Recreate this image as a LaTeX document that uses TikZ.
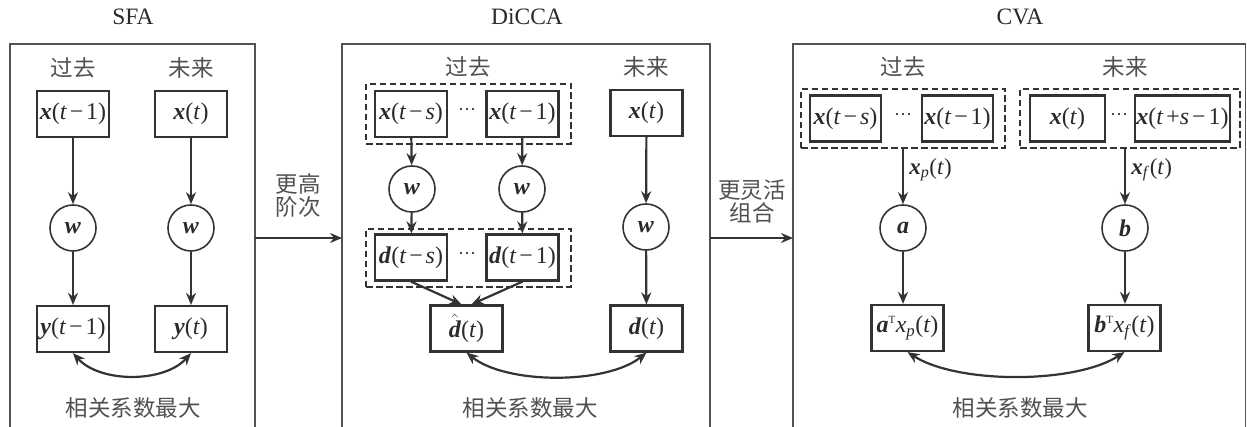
\documentclass[tikz,border=0pt]{standalone}
\usepackage{fontspec}
\setmainfont{Liberation Serif}
\newfontfamily\cjk{Noto Sans CJK SC}
\usetikzlibrary{arrows.meta}
\definecolor{ink}{HTML}{333333}
\definecolor{txt}{HTML}{2A2A2A}
\definecolor{zhc}{HTML}{505050}
\newcommand{\bi}[1]{\textbf{\textit{#1}}}
\newcommand{\ti}[1]{\textit{#1}}
\newcommand{\mn}{\kern0.12em−\kern0.12em}
\newcommand{\dhat}{$\hat{\mbox{\bi{d}}}$}
\begin{document}
\begin{tikzpicture}[x=1pt,y=-1pt,
  every node/.style={text=txt},
  vbox/.style={draw=ink,line width=2.2pt,minimum width=72pt,minimum height=46pt,inner sep=0pt,font=\fontsize{24}{26}\selectfont},
  cnode/.style={draw=ink,circle,line width=1.6pt,minimum size=46pt,inner sep=0pt,font=\fontsize{24}{26}\selectfont},
  dbox/.style={draw=ink,line width=1.6pt,dash pattern=on 6.5pt off 3.5pt},
  panel/.style={draw=ink!85,line width=1.4pt},
  arr/.style={draw=ink,line width=2.2pt,-{Stealth[length=12pt,width=10pt]}},
  darr/.style={draw=ink,line width=2.2pt,{Stealth[length=12pt,width=10pt]}-{Stealth[length=12pt,width=10pt]}},
  zh/.style={font=\cjk\fontsize{22.5}{24}\selectfont,text=zhc},
  ttl/.style={font=\fontsize{23.5}{25}\selectfont},
  lbl/.style={font=\fontsize{23}{25}\selectfont},
  dots/.style={font=\fontsize{18}{20}\selectfont,inner sep=0pt}
]
\useasboundingbox (0,0) rectangle (1247,427);
% panels
\draw[panel] (10,427) -- (10,44) -- (255,44) -- (255,427);
\draw[panel] (342,427) -- (342,44) -- (710,44) -- (710,427);
\draw[panel] (793,427) -- (793,44) -- (1245.5,44) -- (1245.5,427);
\node[ttl] (t1) at (133,17) {SFA};
\node[ttl] (t2) at (527,17) {DiCCA};
\node[ttl] (t3) at (1020,17) {CVA};
% inter-panel arrows
\coordinate (p1r) at (255,238);
\coordinate (p2l) at (342,238);
\coordinate (p2r) at (710,238);
\coordinate (p3l) at (793,238);
\draw[arr] (p1r) -- (p2l);
\draw[arr] (p2r) -- (p3l);
\node[zh,align=center] (l1) at (298,195) {更高\\[-1pt]阶次};
\node[zh,align=center] (l2) at (752,201) {更灵活\\[-1pt]组合};

% ---------- SFA ----------
\node[zh] (a1) at (73,68) {过去};
\node[zh] (b1) at (191,68) {未来};
\node[vbox] (xa) at (73,114) {\bi{x}(\ti{t}\mn1)};
\node[vbox] (xb) at (191,114) {\bi{x}(\ti{t})};
\node[cnode] (wa) at (73,228) {\bi{w}};
\node[cnode] (wb) at (191,228) {\bi{w}};
\node[vbox] (ya) at (73,329) {\bi{y}(\ti{t}\mn1)};
\node[vbox] (yb) at (191,329) {\bi{y}(\ti{t})};
\draw[arr] (xa) -- (wa);
\draw[arr] (xb) -- (wb);
\draw[arr] (wa) -- (ya);
\draw[arr] (wb) -- (yb);
\draw[darr] (ya.south) .. controls +(27,30) and +(-27,30) .. (yb.south);
\node[zh] (c1) at (133,408) {相关系数最大};

% ---------- DiCCA ----------
\node[zh] (a2) at (468,67) {过去};
\node[zh] (b2) at (646,67) {未来};
\node[dbox,minimum width=205pt,minimum height=60pt] (dx2) at (468.5,114) {};
\node[vbox] (x2a) at (411,114) {\bi{x}(\ti{t}\mn\ti{s})};
\node[dots] (x2d) at (467,112) {···};
\node[vbox] (x2b) at (522.5,114) {\bi{x}(\ti{t}\mn1)};
\node[vbox] (x2c) at (646.5,113) {\bi{x}(\ti{t})};
\node[cnode] (w2a) at (412,189) {\bi{w}};
\node[cnode] (w2b) at (522,189) {\bi{w}};
\node[cnode] (w2c) at (646,227) {\bi{w}};
\node[dbox,minimum width=205pt,minimum height=58pt] (dd2) at (468.5,258) {};
\node[vbox] (d2a) at (411,257.5) {\bi{d}(\ti{t}\mn\ti{s})};
\node[dots] (d2d) at (467,256) {···};
\node[vbox] (d2b) at (522.5,257.5) {\bi{d}(\ti{t}\mn1)};
\node[vbox] (dh) at (466.5,328.5) {\dhat(\ti{t})};
\node[vbox] (dt) at (646.5,328.5) {\bi{d}(\ti{t})};
\draw[arr] (x2a) -- (w2a);
\draw[arr] (x2b) -- (w2b);
\draw[arr] (w2a) -- (d2a);
\draw[arr] (w2b) -- (d2b);
\draw[arr] (x2c) -- (w2c);
\draw[arr] (w2c) -- (dt);
\draw[arr] (d2a.south) -- ([xshift=-5pt]dh.north);
\draw[arr] (d2b.south) -- ([xshift=5pt]dh.north);
\draw[darr] (dh.south) .. controls +(40,32) and +(-40,32) .. (dt.south);
\node[zh] (c2) at (530,408) {相关系数最大};

% ---------- CVA ----------
\node[zh] (a3) at (903,67) {过去};
\node[zh] (b3) at (1125,67) {未来};
\node[dbox,minimum width=204pt,minimum height=59pt] (dp) at (903,118.5) {};
\node[dbox,minimum width=220pt,minimum height=59pt] (df) at (1130,118.5) {};
\node[vbox,minimum width=71pt] (x3a) at (845.5,118.5) {\bi{x}(\ti{t}\mn\ti{s})};
\node[dots] (x3d) at (903,117) {···};
\node[vbox,minimum width=71pt] (x3b) at (957.5,118.5) {\bi{x}(\ti{t}\mn1)};
\node[vbox,minimum width=75pt] (x3c) at (1067.5,118.5) {\bi{x}(\ti{t})};
\node[dots] (x3e) at (1119,117) {···};
\node[vbox,minimum width=95pt] (x3f) at (1182.5,118.5) {\bi{x}(\ti{t}\kern0.12em+\ti{s}\mn1)};
\node[cnode] (ca) at (903,228) {\bi{a}};
\node[cnode] (cb) at (1125,228) {\bi{b}};
\node[vbox] (ax) at (907.5,328) {\bi{a}\textsuperscript{\fontsize{11}{11}\selectfont T}\ti{x}\textsubscript{\ti{p}}(\ti{t})};
\node[vbox] (bx) at (1124.5,328) {\bi{b}\textsuperscript{\fontsize{11}{11}\selectfont T}\ti{x}\textsubscript{\ti{f}}(\ti{t})};
\draw[arr] (dp.south) -- (ca) node[lbl,pos=0.38,right=2pt] (xp) {\bi{x}\textsubscript{\ti{p}}(\ti{t})};
\draw[arr] ([xshift=-5pt]df.south) -- (cb) node[lbl,pos=0.38,right=2pt] (xf) {\bi{x}\textsubscript{\ti{f}}(\ti{t})};
\draw[arr] (ca) -- (ax.north -| ca);
\draw[arr] (cb) -- (bx.north -| cb);
\draw[darr] (ax.south) .. controls +(50,32) and +(-50,32) .. (bx.south);
\node[zh] (c3) at (1020,408) {相关系数最大};
\end{tikzpicture}
\end{document}
